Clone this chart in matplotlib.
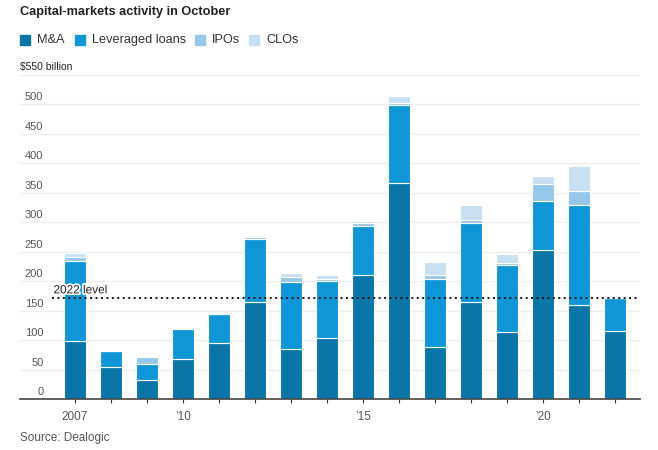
import matplotlib
matplotlib.use("Agg")
import matplotlib.pyplot as plt
import matplotlib.patheffects as pe
from matplotlib.patches import Rectangle
import numpy as np

plt.rcParams["font.family"] = ["Liberation Sans", "DejaVu Sans"]

# ── Data (billions of dollars, October of each year) ──────────────────────────
years      = list(range(2007, 2023))
mna        = [99, 54, 33, 68, 95, 165, 84, 103, 210, 366, 88, 165, 113, 253, 160, 116]
lev_loans  = [135, 27, 26, 50, 49, 106, 114, 97, 84, 132, 115, 134, 114, 83, 169, 55]
ipos       = [7, 0, 12, 2, 0, 4, 9, 4, 4, 4, 7, 4, 4, 28, 24, 0]
clos       = [6, 0, 0, 0, 0, 0, 6, 7, 4, 12, 23, 26, 14, 14, 42, 0]
level_2022 = 171
yticks     = [0, 50, 100, 150, 200, 250, 300, 350, 400, 450, 500, 550]
xtick_lbls = {2007: "2007", 2010: "\u201910", 2015: "\u201915", 2020: "\u201920"}

series = [("M&A", mna, "#0a76a8"),
          ("Leveraged loans", lev_loans, "#0e96d6"),
          ("IPOs", ipos, "#96c8eb"),
          ("CLOs", clos, "#c8e0f4")]

TEXT, GREY, GRID = "#222222", "#555555", "#eeeeee"

fig = plt.figure(figsize=(6.58, 4.5), dpi=100)
fig.patch.set_facecolor("white")
ax = fig.add_axes([20 / 658, 51 / 450, 620 / 658, (399 - 74.5) / 450])

x = np.array(years)
bottom = np.zeros(len(years))
for name, vals, col in series:
    v = np.array(vals, dtype=float)
    ax.bar(x, v, bottom=bottom, width=0.6, color=col,
           edgecolor="white", linewidth=0.8, zorder=3)
    bottom += v

# gridlines + y labels sitting just above each line
for t in yticks[1:]:
    ax.axhline(t, color=GRID, lw=1.0, zorder=1)
for t in yticks[:-1]:
    ax.text(2006.12, t + 3, str(t), ha="right", va="bottom",
            fontsize=8, color=GREY, zorder=2)
ax.text(0.0, 550 + 4, "$550 billion", transform=ax.get_yaxis_transform(),
        ha="left", va="bottom", fontsize=7.5, color=TEXT)

# 2022 level reference
ax.plot([2006.35, 2022.69], [level_2022, level_2022], color="#111111",
        lw=1.4, ls=(0, (1, 1.8)), zorder=4)
ax.text(2006.4, level_2022 + 3, "2022 level", ha="left", va="bottom",
        fontsize=8.5, color=TEXT, zorder=5,
        path_effects=[pe.withStroke(linewidth=2.5, foreground="white")])

ax.set_xlim(2005.47, 2022.69)
ax.set_ylim(0, 550)
ax.set_yticks([])
ax.set_xticks(years)
ax.set_xticklabels([xtick_lbls.get(y, "") for y in years])
ax.tick_params(axis="x", length=3, width=0.8, color="#333333",
               labelsize=8.5, labelcolor=GREY, pad=6)
for s in ("top", "right", "left"):
    ax.spines[s].set_visible(False)
ax.spines["bottom"].set_color("#444444")
ax.spines["bottom"].set_linewidth(1.2)
ax.spines["bottom"].set_zorder(6)

# title + legend + source
fig.text(20 / 658, 1 - 12 / 450, "Capital-markets activity in October",
         ha="left", va="center", fontsize=9.2, fontweight="bold", color=TEXT)
leg_x = [20, 75, 195, 249]
for (name, _, col), lx in zip(series, leg_x):
    fig.patches.append(Rectangle((lx / 658, 1 - 45 / 450), 10 / 658, 10 / 450,
                                 transform=fig.transFigure, color=col))
    fig.text((lx + 17) / 658, 1 - 40 / 450, name, ha="left", va="center",
             fontsize=9.2, color="#333333")
fig.text(20 / 658, 1 - 438 / 450, "Source: Dealogic", ha="left", va="center",
         fontsize=8.5, color=GREY)

fig.savefig("out.png", dpi=100, facecolor="white")
